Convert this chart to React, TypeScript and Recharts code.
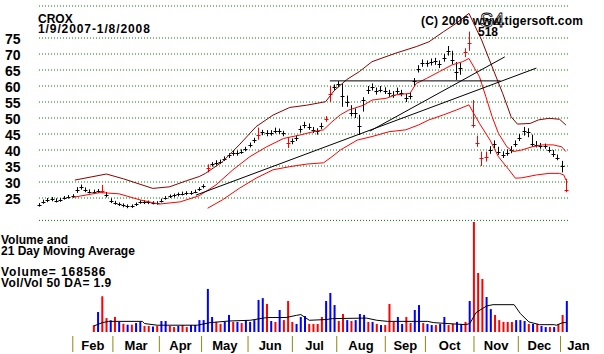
import React from "react";
import {
  Bar,
  CartesianGrid,
  Cell,
  ComposedChart,
  Line,
  ReferenceLine,
  XAxis,
  YAxis,
} from "recharts";

// CROX daily chart, 1/9/2007-1/8/2008. x is the trading-session index
// (0 = 1/9/2007); bars are read every other session.

const FONT = "Arial, 'Liberation Sans', sans-serif";

const days = Array.from({ length: 126 }, (_, i) => i * 2);

const close = [
  22.8, 23.8, 24.3, 24.6, 24.2, 24.4, 25.0, 25.3, 25.6, 27.6,
  28.3, 27.5, 27.0, 27.0, 27.2, 27.3, 25.8, 24.0, 23.5, 23.0,
  22.7, 22.4, 22.4, 23.0, 23.8, 23.7, 23.6, 23.5, 23.4, 24.2,
  25.0, 25.5, 25.8, 26.1, 26.4, 26.5, 26.6, 27.0, 27.8, 28.6,
  34.5, 35.5, 36.0, 36.3, 37.3, 38.3, 39.0, 39.0, 39.5, 40.3,
  41.5, 43.0, 44.8, 45.5, 45.3, 45.3, 46.0, 45.8, 45.2, 42.2,
  42.8, 43.6, 46.5, 47.8, 47.3, 46.3, 45.8, 47.5, 49.8, 57.5,
  59.6, 60.6, 57.0, 55.0, 51.5, 51.5, 47.5, 55.5, 58.8, 59.7,
  58.3, 58.9, 58.5, 57.7, 57.3, 58.4, 57.8, 56.3, 56.8, 61.5,
  65.3, 67.1, 67.1, 67.5, 67.7, 66.8, 68.8, 71.0, 68.0, 64.5,
  65.5, 70.5, 73.5, 47.8, 42.3, 37.5, 37.9, 40.0, 41.8, 39.3,
  38.4, 39.1, 40.0, 42.0, 43.8, 45.8, 45.5, 41.8, 41.6, 41.2,
  41.2, 40.0, 38.8, 37.6, 35.0, 27.5,
];
const high = [
  23.4, 24.5, 25.0, 25.3, 24.9, 25.0, 25.6, 25.9, 26.2, 28.4,
  29.2, 28.3, 27.7, 27.6, 27.8, 29.1, 26.9, 24.9, 24.1, 23.6,
  23.3, 23.0, 23.0, 23.6, 24.3, 24.3, 24.2, 24.0, 24.0, 24.8,
  25.6, 26.1, 26.4, 26.7, 27.0, 27.1, 27.2, 27.6, 28.4, 29.3,
  35.5, 36.2, 36.8, 37.0, 38.0, 39.0, 39.8, 39.8, 40.2, 41.0,
  42.3, 43.8, 47.0, 46.3, 46.2, 46.2, 47.0, 46.7, 46.0, 44.0,
  43.6, 44.5, 47.6, 48.8, 48.3, 47.2, 46.8, 48.5, 50.6, 60.0,
  60.5, 61.5, 60.8, 57.0, 54.0, 53.0, 51.0, 56.5, 60.0, 60.8,
  59.5, 60.0, 59.6, 58.8, 58.4, 59.5, 58.8, 57.5, 57.8, 62.5,
  66.5, 68.3, 68.0, 68.6, 68.8, 68.0, 70.0, 72.5, 71.0, 67.5,
  67.2, 71.8, 77.0, 55.6, 44.5, 39.5, 39.5, 41.2, 43.0, 41.0,
  39.6, 40.2, 41.2, 43.0, 45.0, 47.2, 46.8, 44.8, 42.8, 42.2,
  42.0, 41.0, 40.0, 38.6, 36.6, 31.0,
];
const low = [
  22.3, 23.2, 23.7, 24.0, 23.6, 23.8, 24.5, 24.8, 25.0, 26.6,
  27.6, 26.8, 26.4, 26.4, 26.6, 26.5, 25.2, 23.4, 22.9, 22.5,
  22.1, 21.8, 21.9, 22.5, 23.2, 23.1, 23.1, 23.0, 22.9, 23.6,
  24.5, 25.0, 25.2, 25.5, 25.8, 25.9, 26.0, 26.5, 27.2, 28.0,
  33.0, 34.8, 35.2, 35.6, 36.6, 37.5, 38.2, 38.2, 38.8, 39.6,
  40.8, 42.2, 43.2, 44.6, 44.3, 44.5, 45.2, 45.0, 44.3, 40.6,
  41.8, 42.8, 45.4, 46.8, 46.3, 45.3, 44.8, 46.5, 48.8, 55.0,
  58.6, 59.6, 53.5, 53.5, 50.5, 50.0, 44.7, 52.0, 57.5, 58.6,
  57.3, 58.0, 57.5, 56.6, 56.3, 57.4, 56.8, 55.0, 55.8, 59.8,
  64.2, 66.0, 66.0, 66.4, 66.6, 65.6, 67.6, 69.5, 66.8, 61.9,
  63.5, 69.0, 71.0, 47.0, 41.0, 35.0, 36.4, 38.8, 40.5, 38.5,
  37.5, 38.2, 39.0, 41.0, 42.8, 44.5, 44.0, 41.0, 40.8, 40.4,
  40.4, 39.2, 37.8, 36.8, 33.0, 26.8,
];
// sessions drawn in red
const redBars = [30, 80, 104, 118, 136, 138, 202, 204, 206, 208, 210, 212, 250];

// [session, price]
const upperBand: [number, number][] = [
  [17, 30.6], [32, 32.5], [40, 31.0], [54, 28.0], [62, 28.5], [70, 30.4],
  [76, 31.7], [79, 32.7], [87, 36.3], [95, 41.6], [103, 47.3], [111, 50.9],
  [119, 53.3], [127, 54.0], [132, 54.6], [136, 55.1], [140, 58.5], [146, 62.0],
  [152, 64.5], [158, 67.6], [169, 70.2], [179, 72.3], [185, 73.8], [192, 77.0],
  [198, 79.6], [204, 82.7], [210, 74.4], [215, 66.0], [220, 57.7], [224, 50.4],
  [227, 48.1], [233, 48.3], [237, 49.4], [242, 49.9], [247, 49.6], [250, 47.8],
];
const midBand: [number, number][] = [
  [16, 25.2], [29, 26.7], [38, 26.3], [48, 24.4], [57, 23.1], [67, 23.8],
  [76, 25.7], [84, 29.1], [92, 33.8], [100, 37.9], [108, 41.0], [116, 43.6],
  [124, 44.7], [130, 45.7], [135, 46.3], [139, 48.8], [143, 51.0], [147, 52.5],
  [154, 54.0], [158, 55.6], [165, 56.2], [169, 57.2], [176, 57.7], [179, 60.8],
  [184, 62.4], [190, 64.5], [196, 66.6], [201, 67.6], [204, 68.6], [209, 62.9],
  [212, 56.7], [215, 50.4], [218, 45.2], [222, 41.0], [225, 39.5], [229, 40.0],
  [234, 41.0], [239, 41.6], [244, 41.6], [248, 41.0], [250, 39.5],
];
const lowerBand: [number, number][] = [
  [80, 21.8], [87, 24.4], [95, 28.0], [103, 31.2], [111, 33.8], [119, 34.8],
  [127, 35.6], [135, 36.0], [139, 37.9], [143, 40.0], [151, 43.1], [158, 44.2],
  [166, 45.7], [174, 46.3], [180, 47.8], [185, 49.4], [192, 51.0], [198, 52.5],
  [204, 54.1], [209, 48.3], [214, 43.1], [218, 37.9], [223, 33.8], [226, 31.2],
  [229, 31.3], [236, 32.2], [242, 32.7], [247, 32.7], [249, 32.2], [250, 30.6],
];

// black trendlines [[session, price], [session, price]]
const trendLong: [number, number][] = [[74.5, 25.9], [236, 65.6]];
const trendSteep: [number, number][] = [[157, 45.9], [221, 69.1]];
const shelf: [number, number][] = [[138, 61.6], [219, 61.6]];

// volume in thousands, every other session from session 26; u = up, d = down
const volStart = 26;
const volume: [number, "u" | "d"][] = [
  [37, "d"], [109, "u"], [195, "d"], [76, "d"], [64, "u"], [82, "d"], [55, "u"], [45, "d"], [40, "u"], [40, "d"],
  [49, "u"], [55, "u"], [33, "d"], [33, "d"], [30, "u"], [33, "d"], [60, "u"], [60, "u"], [33, "d"], [27, "d"],
  [33, "u"], [38, "d"], [27, "d"], [38, "u"], [38, "u"], [65, "u"], [65, "u"], [235, "u"], [82, "u"], [55, "d"],
  [44, "d"], [55, "u"], [93, "u"], [55, "d"], [55, "u"], [49, "d"], [65, "u"], [55, "u"], [65, "u"], [175, "u"],
  [185, "u"], [153, "d"], [60, "u"], [55, "d"], [120, "u"], [65, "d"], [169, "d"], [55, "d"], [44, "u"], [82, "u"],
  [87, "u"], [44, "d"], [44, "d"], [44, "d"], [82, "d"], [169, "u"], [213, "u"], [147, "u"], [60, "d"], [98, "d"],
  [65, "u"], [60, "d"], [65, "u"], [98, "u"], [93, "u"], [55, "d"], [55, "u"], [44, "d"], [38, "u"], [38, "d"],
  [153, "d"], [55, "d"], [82, "u"], [44, "u"], [82, "d"], [49, "d"], [120, "u"], [147, "u"], [49, "d"], [44, "u"],
  [38, "u"], [38, "d"], [44, "u"], [82, "u"], [38, "d"], [44, "d"], [55, "u"], [44, "u"], [55, "d"], [169, "u"],
  [600, "d"], [322, "d"], [289, "d"], [191, "u"], [125, "u"], [93, "d"], [65, "d"], [55, "d"], [55, "d"], [55, "d"],
  [65, "u"], [65, "u"], [60, "u"], [44, "d"], [44, "u"], [44, "d"], [33, "u"], [27, "u"], [27, "d"], [27, "u"],
  [44, "d"], [93, "d"], [169, "u"],
];
// 21-day moving average of volume [session, thousands]
const volMA: [number, number][] = [
  [26, 33], [30, 51], [33, 58], [49, 58], [50, 46], [56, 37], [75, 37], [81, 51],
  [90, 60], [100, 64], [108, 79], [117, 79], [122, 91], [124, 95], [128, 64],
  [136, 68], [139, 73], [155, 76], [160, 64], [165, 58], [184, 58], [187, 51],
  [202, 40], [204, 46], [207, 106], [212, 142], [215, 149], [225, 149], [228, 100],
  [232, 55], [237, 40], [244, 40], [245, 37], [248, 51], [250, 51],
];

const priceTicks = [25, 30, 35, 40, 45, 50, 55, 60, 65, 70, 75];
const monthStarts = [16, 35, 57, 77, 99, 120, 141, 164, 183, 206, 227, 247];
const monthMids = [25.5, 46, 67, 88, 109.5, 130.5, 152.5, 173.5, 194.5, 216.5, 237, 255.5];
const monthNames = ["Feb", "Mar", "Apr", "May", "Jun", "Jul", "Aug", "Sep", "Oct", "Nov", "Dec", "Jan"];

const priceRows = days.map((d, i) => ({
  d,
  range: [low[i], high[i]],
  close: close[i],
  red: redBars.includes(d),
}));
const toRows = (pts: [number, number][]) => pts.map(([d, v]) => ({ d, v }));
const volRows = volume.map(([v, dir], i) => ({ d: volStart + i * 2, vol: v, dir }));

function OhlcBar(props: any) {
  const { x, y, width, height, payload } = props;
  if (x == null || y == null) return null;
  const top = Math.min(y, y + height);
  const h = Math.abs(height);
  const [lo, hi] = payload.range;
  const cx = Math.round(x + width / 2) + 0.5;
  const cy = Math.round(top + ((hi - payload.close) / (hi - lo)) * h) + 0.5;
  const color = payload.red ? "#ff0000" : "#000000";
  return (
    <g>
      <line x1={cx} x2={cx} y1={top} y2={top + h} stroke={color} strokeWidth={1} />
      <line x1={cx - 2} x2={cx + 2} y1={cy} y2={cy} stroke={color} strokeWidth={1} />
    </g>
  );
}

function PriceTick(props: any) {
  const { y, payload } = props;
  return (
    <text x={5} y={y + 6} fontSize={14} fontWeight="bold" fontFamily={FONT} fill="#000">
      {payload.value}
    </text>
  );
}

function MonthTick(props: any) {
  const { x, y, payload } = props;
  const i = monthStarts.indexOf(payload.value);
  if (i >= 0) {
    return <line x1={x} x2={x} y1={y + 4} y2={y + 20} stroke="#8a8a10" strokeWidth={1} />;
  }
  const j = monthMids.indexOf(payload.value);
  return (
    <text x={x} y={y + 18} textAnchor="middle" fontSize={13} fontWeight="bold" fontFamily={FONT} fill="#000">
      {monthNames[j]}
    </text>
  );
}

function Label({
  x,
  y,
  size = 12,
  spacing = 0,
  children,
}: {
  x: number;
  y: number;
  size?: number;
  spacing?: number;
  children: React.ReactNode;
}) {
  return (
    <text x={x} y={y} fontSize={size} fontWeight="bold" fontFamily={FONT} fill="#000" letterSpacing={spacing}>
      {children}
    </text>
  );
}

export default function App() {
  return (
    <div style={{ position: "absolute", left: 0, top: 0, width: 604, height: 354, background: "#fff" }}>
      <div style={{ position: "absolute", left: 0, top: 0 }}>
        <ComposedChart width={604} height={230} data={priceRows} margin={{ top: 6, right: 36, bottom: 9.6, left: 0 }}>
          <CartesianGrid vertical={false} stroke="#007a00" strokeDasharray="1 2" />
          <XAxis type="number" dataKey="d" domain={[0, 251]} hide />
          <YAxis
            domain={[18, 85]}
            ticks={priceTicks}
            interval={0}
            width={39}
            tick={<PriceTick />}
            axisLine={false}
            tickLine={false}
            allowDataOverflow
          />
          <Line data={toRows(upperBand)} dataKey="v" stroke="#8b0000" strokeWidth={1} dot={false} isAnimationActive={false} />
          <Line data={toRows(midBand)} dataKey="v" stroke="#ff0000" strokeWidth={1} dot={false} isAnimationActive={false} />
          <Line data={toRows(lowerBand)} dataKey="v" stroke="#ff0000" strokeWidth={1} dot={false} isAnimationActive={false} />
          <ReferenceLine segment={trendLong.map(([x, y]) => ({ x, y }))} stroke="#000" strokeWidth={1} />
          <ReferenceLine segment={trendSteep.map(([x, y]) => ({ x, y }))} stroke="#000" strokeWidth={1} />
          <ReferenceLine segment={shelf.map(([x, y]) => ({ x, y }))} stroke="#000" strokeWidth={1} />
          <Bar dataKey="range" barSize={4} shape={<OhlcBar />} isAnimationActive={false} />
        </ComposedChart>
      </div>

      <div style={{ position: "absolute", left: 0, top: 0 }}>
        <ComposedChart width={604} height={354} data={volRows} margin={{ top: 222, right: 16, bottom: 0, left: 39 }}>
          <XAxis
            type="number"
            dataKey="d"
            domain={[0, 260]}
            ticks={[...monthStarts, ...monthMids]}
            interval={0}
            tick={<MonthTick />}
            tickLine={false}
            axisLine={false}
            tickSize={0}
            tickMargin={0}
            height={22}
          />
          <YAxis hide domain={[0, 600]} allowDataOverflow />
          <Bar dataKey="vol" barSize={2} isAnimationActive={false}>
            {volRows.map((r) => (
              <Cell key={r.d} fill={r.dir === "u" ? "#0000ff" : "#ff0000"} />
            ))}
          </Bar>
          <Line data={toRows(volMA)} dataKey="v" stroke="#000" strokeWidth={1} dot={false} isAnimationActive={false} />
        </ComposedChart>
      </div>

      <svg width={604} height={354} style={{ position: "absolute", left: 0, top: 0, pointerEvents: "none" }}>
        <Label x={38} y={23}>CROX</Label>
        <Label x={38} y={33} spacing={0.9}>1/9/2007-1/8/2008</Label>
        <Label x={421} y={25} spacing={0.2}>(C) 2006 www.tigersoft.com</Label>
        <text x={480} y={27} fontSize={20} fontFamily={FONT} fill="none" stroke="#000" strokeWidth={0.8}>
          S4
        </text>
        <Label x={478} y={36}>518</Label>
        <Label x={1} y={244}>Volume and</Label>
        <Label x={1} y={255}>21 Day Moving Average</Label>
        <Label x={1} y={276} spacing={0.9}>Volume= 168586</Label>
        <Label x={1} y={287} spacing={0.4}>Vol/Vol 50 DA= 1.9</Label>
      </svg>
    </div>
  );
}
